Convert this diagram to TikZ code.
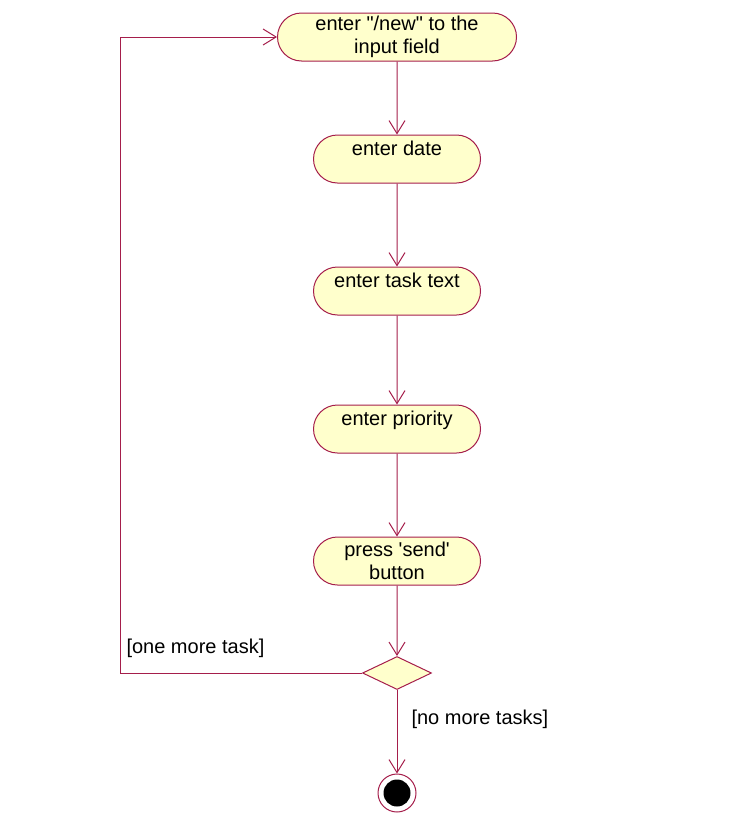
\documentclass[tikz,border=0pt]{standalone}
\usepackage{fontspec}
\setmainfont{Liberation Sans}
\usetikzlibrary{shapes.misc,shapes.geometric,arrows.meta}

\definecolor{umlline}{RGB}{165,30,75}
\definecolor{umlfill}{RGB}{255,255,204}

\tikzset{
  activity/.style={rounded rectangle, draw=umlline, fill=umlfill, line width=1pt,
    minimum height=48pt, minimum width=167pt, inner sep=0pt, align=center,
    font=\fontsize{20}{23}\selectfont},
  oneline/.style={activity, text depth=21pt},
  flow/.style={draw=umlline, line width=1pt, -{Straight Barb[length=13pt,width=16pt]}},
  guard/.style={anchor=west, font=\fontsize{20}{23}\selectfont}
}

\begin{document}
\begin{tikzpicture}[x=1pt, y=-1pt]
   \useasboundingbox (0, 0) rectangle (746, 822);

   % activities
   \node[activity, minimum width=239pt] (newfield) at (397, 37) {enter \textquotedbl/new\textquotedbl{} to the\\input field};
   \node[oneline] (date) at (397, 159) {enter date};
   \node[oneline] (text) at (397, 291) {enter task text};
   \node[oneline] (prio) at (397, 429) {enter priority};
   \node[activity] (send) at (397, 561) {press \textquotesingle send\textquotesingle\\button};

   % decision and end
   \node[diamond, draw=umlline, fill=umlfill, line width=1pt, inner sep=0pt,
     minimum width=69pt, minimum height=33pt] (choice) at (397, 673) {};
   \node[circle, draw=umlline, fill=white, line width=1pt, minimum size=38pt, inner sep=0pt] (stop) at (397, 793) {};
   \node[circle, fill=black, minimum size=27pt, inner sep=0pt] (stopdot) at (stop) {};

   \coordinate (loop) at (120, 673);

   \draw[flow] (newfield) -- (date);
   \draw[flow] (date) -- (text);
   \draw[flow] (text) -- (prio);
   \draw[flow] (prio) -- (send);
   \draw[flow] (send) -- (choice);
   \draw[flow] (choice) -- (stop);
   \draw[flow] (choice.west) -- (loop) |- (newfield.west);

   \node[guard] (more) at (123, 648) {[one more task]};
   \node[guard] (nomore) at (408, 719) {[no more tasks]};
\end{tikzpicture}
\end{document}
